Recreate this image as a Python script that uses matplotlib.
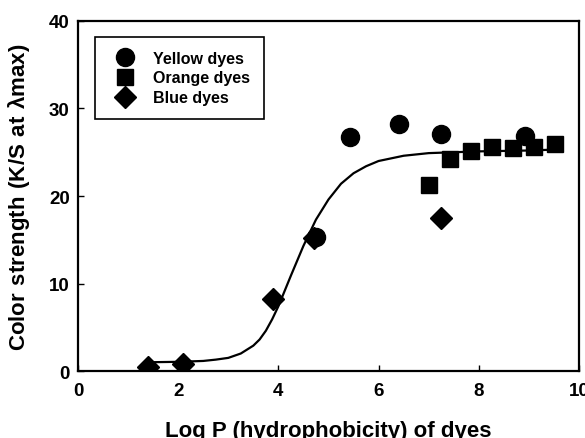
import matplotlib
matplotlib.use("Agg")
import matplotlib.pyplot as plt

plt.rcParams["font.family"] = ["Liberation Sans", "DejaVu Sans"]
plt.rcParams["font.weight"] = "bold"
plt.rcParams["mathtext.fontset"] = "custom"
plt.rcParams["mathtext.rm"] = "Liberation Sans"
plt.rcParams["mathtext.bf"] = "Liberation Sans:bold"

# data
yellow_logp = [4.75, 5.43, 6.41, 7.25, 8.92]
yellow_ks = [15.3, 26.7, 28.2, 27.1, 26.8]

orange_logp = [7.0, 7.42, 7.84, 8.26, 8.68, 9.10, 9.52]
orange_ks = [21.3, 24.2, 25.1, 25.6, 25.5, 25.6, 25.9]

blue_logp = [1.40, 2.10, 3.89, 4.72, 7.25]
blue_ks = [0.5, 0.8, 8.2, 15.2, 17.5]

# fitted sigmoid curve
curve_logp = [1.4, 2.0, 2.5, 2.75, 3.0, 3.25, 3.5, 3.625, 3.75, 3.875, 4.0,
              4.25, 4.5, 4.75, 5.0, 5.25, 5.5, 5.75, 6.0, 6.5, 7.0, 7.5,
              8.0, 9.0, 9.5]
curve_ks = [1.0, 1.05, 1.15, 1.3, 1.5, 2.0, 2.9, 3.6, 4.6, 5.9, 7.4,
            10.9, 14.3, 17.3, 19.6, 21.4, 22.6, 23.4, 24.0, 24.6, 24.9, 25.0,
            25.1, 25.2, 25.3]

x_ticks = [0, 2, 4, 6, 8, 10]
y_ticks = [0, 10, 20, 30, 40]

fig = plt.figure(figsize=(5.85, 4.39), dpi=100)
ax = fig.add_axes([0.1333, 0.1526, 0.8564, 0.7973])

ax.plot(curve_logp, curve_ks, color="black", lw=1.6, zorder=2)
ax.plot(yellow_logp, yellow_ks, "o", color="black", ms=13, label="Yellow dyes", zorder=3)
ax.plot(orange_logp, orange_ks, "s", color="black", ms=11.5, label="Orange dyes", zorder=3)
ax.plot(blue_logp, blue_ks, "D", color="black", ms=11, label="Blue dyes", zorder=3)

ax.set_xlim(0, 10)
ax.set_ylim(0, 40)
ax.set_xticks(x_ticks)
ax.set_yticks(y_ticks)
ax.tick_params(direction="in", length=4, width=1, labelsize=13.5)
ax.tick_params(axis="x", pad=8)
ax.tick_params(axis="y", pad=6)
for lab in ax.get_xticklabels() + ax.get_yticklabels():
    lab.set_fontweight("bold")
for sp in ax.spines.values():
    sp.set_linewidth(1.6)

ax.set_xlabel("Log P (hydrophobicity) of dyes", fontsize=16, fontweight="bold", labelpad=15)
ax.set_ylabel(r"$\mathbf{Color\ strength\ (K/S\ at\ λ}\mathrm{max}\mathbf{)}$",
              fontsize=16, labelpad=12)

leg = ax.legend(loc="upper left", bbox_to_anchor=(0.034, 0.954), borderaxespad=0,
                fancybox=False, edgecolor="black", framealpha=1,
                prop={"size": 11.5, "weight": "bold"},
                borderpad=0.85, handlelength=2.0, handletextpad=0.8,
                labelspacing=0.3)
leg.get_frame().set_linewidth(1.2)

fig.savefig("out.png", dpi=100)
